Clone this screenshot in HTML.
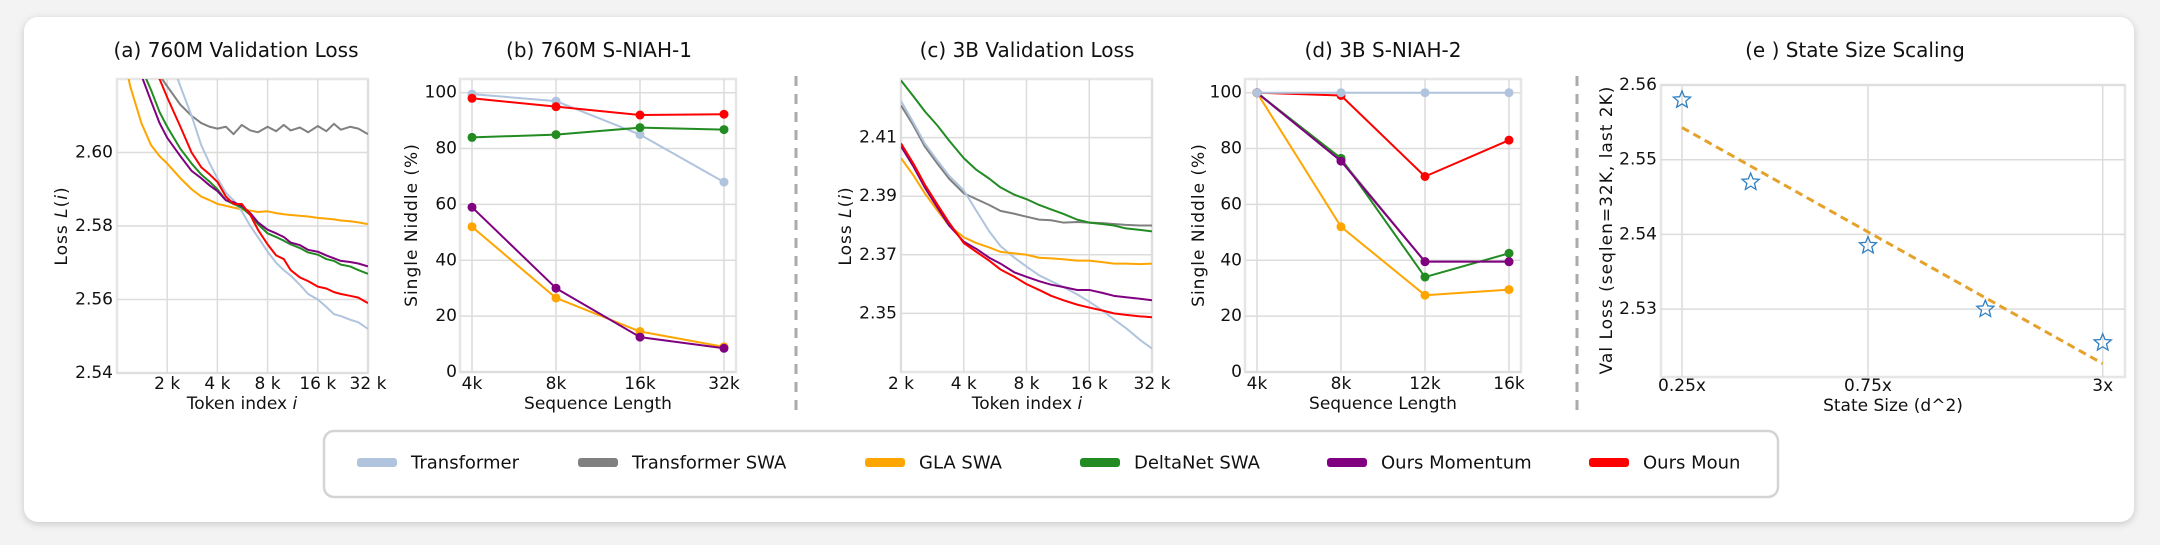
<!DOCTYPE html>
<html><head><meta charset="utf-8">
<style>
html,body{margin:0;padding:0;background:#f3f3f3;}
body{width:2160px;height:545px;overflow:hidden;position:relative;font-family:"DejaVu Sans","Liberation Sans",sans-serif;}
#card{position:absolute;left:24px;top:17px;width:2110px;height:505px;background:#fff;border-radius:14px;box-shadow:0 2px 8px rgba(0,0,0,0.18);}
svg{position:absolute;left:0;top:0;}
text{font-family:"DejaVu Sans","Liberation Sans",sans-serif;fill:#111;}
</style></head>
<body>
<div id="card"></div>
<svg id="fig" width="2160" height="545" viewBox="0 0 2160 545">
  <defs>
    <clipPath id="clipA"><rect x="117" y="79" width="251" height="294"/></clipPath>
    <clipPath id="clipC"><rect x="901" y="79" width="251" height="293"/></clipPath>
  </defs>
  <line x1="796" y1="76" x2="796" y2="417" stroke="#aaa" stroke-width="3" stroke-dasharray="10,8"/>
  <line x1="1577" y1="76" x2="1577" y2="417" stroke="#aaa" stroke-width="3" stroke-dasharray="10,8"/>
  <g id="legend">
    <rect x="324" y="431" width="1454" height="66" rx="10" fill="#fff" stroke="#d4d4d4" stroke-width="2.5"/>
  </g>
</svg>
<script>
// ---------- data ----------
const seriesNames = ['Transformer','Transformer SWA','GLA SWA','DeltaNet SWA','Ours Momentum','Ours Moun'];
const seriesColors = ['#b0c4de','#808080','#ffa500','#228b22','#800080','#ff0000'];

// (a) 760M validation loss, x in k tokens
const aX = [1,1.2,1.4,1.6,1.8,2,2.4,2.8,3.2,3.6,4,4.5,5,5.6,6.3,7,8,9,10,11,12.5,14,16,18,20,22,25,28,32];
const aTransformer = [2.70,2.68,2.665,2.65,2.637,2.628,2.618,2.610,2.602,2.597,2.593,2.589,2.587,2.584,2.580,2.577,2.573,2.570,2.568,2.5665,2.564,2.5615,2.560,2.558,2.556,2.5555,2.5545,2.5538,2.552];
const aTransformerSWA = [2.66,2.645,2.635,2.627,2.621,2.618,2.613,2.610,2.608,2.607,2.6065,2.607,2.605,2.6075,2.606,2.6055,2.607,2.6058,2.6075,2.606,2.6068,2.6055,2.6072,2.6058,2.6078,2.6062,2.607,2.6065,2.605];
const aGLA = [2.635,2.618,2.608,2.602,2.599,2.597,2.593,2.590,2.588,2.587,2.586,2.5855,2.585,2.5845,2.5842,2.5838,2.584,2.5835,2.5832,2.583,2.5828,2.5826,2.5822,2.582,2.5818,2.5815,2.5813,2.581,2.5805];
const aDelta = [2.64,2.63,2.623,2.617,2.611,2.607,2.601,2.597,2.594,2.592,2.590,2.587,2.586,2.585,2.583,2.5805,2.578,2.577,2.576,2.575,2.574,2.5728,2.5722,2.571,2.5705,2.5695,2.569,2.568,2.567];
const aMomentum = [2.638,2.628,2.621,2.614,2.608,2.604,2.599,2.595,2.593,2.591,2.5895,2.587,2.5865,2.5855,2.5835,2.581,2.579,2.578,2.577,2.5755,2.5748,2.5735,2.573,2.572,2.5712,2.5705,2.5702,2.5698,2.569];
const aMoun = [2.66,2.645,2.635,2.627,2.620,2.615,2.607,2.600,2.596,2.594,2.592,2.588,2.586,2.586,2.583,2.579,2.575,2.572,2.571,2.568,2.566,2.565,2.5635,2.563,2.562,2.5615,2.561,2.5605,2.559];
const aYTicks = [2.54,2.56,2.58,2.60];
const aXTicks = [2,4,8,16,32];
const aXTickLabels = ['2 k','4 k','8 k','16 k','32 k'];

// (b) 760M S-NIAH-1
const bCats = ['4k','8k','16k','32k'];
const bTransformer = [99.5,97,85,68];
const bMoun = [98,95,92,92.3];
const bDelta = [84,85,87.5,86.8];
const bMomentum = [59,30,12.5,8.5];
const bGLA = [52,26.5,14.5,9];
const pctTicks = [0,20,40,60,80,100];

// (c) 3B validation loss
const cX = [2,2.3,2.6,3,3.4,4,4.6,5.3,6,7,8,9.2,10.5,12,14,16,18.5,21,24,28,32];
const cTransformer = [2.4225,2.415,2.408,2.402,2.397,2.392,2.385,2.378,2.373,2.369,2.366,2.363,2.361,2.359,2.3565,2.354,2.351,2.348,2.345,2.341,2.338];
const cTransformerSWA = [2.421,2.414,2.407,2.401,2.396,2.391,2.389,2.387,2.385,2.384,2.383,2.382,2.3818,2.381,2.3812,2.381,2.3808,2.3805,2.3802,2.380,2.380];
const cGLA = [2.403,2.397,2.391,2.385,2.380,2.376,2.374,2.3725,2.371,2.3705,2.370,2.369,2.3688,2.3685,2.368,2.368,2.3675,2.367,2.367,2.3668,2.367];
const cDelta = [2.4295,2.424,2.419,2.414,2.409,2.403,2.399,2.396,2.393,2.3905,2.389,2.387,2.3855,2.384,2.382,2.381,2.3805,2.380,2.379,2.3785,2.378];
const cMomentum = [2.407,2.400,2.393,2.386,2.380,2.3745,2.372,2.369,2.367,2.364,2.3625,2.361,2.3598,2.359,2.358,2.358,2.357,2.356,2.3555,2.355,2.3545];
const cMoun = [2.408,2.401,2.394,2.387,2.381,2.374,2.371,2.368,2.365,2.3625,2.360,2.358,2.356,2.3545,2.353,2.352,2.351,2.350,2.3495,2.349,2.3487];
const cYTicks = [2.35,2.37,2.39,2.41];
const cXTicks = [2,4,8,16,32];
const cXTickLabels = ['2 k','4 k','8 k','16 k','32 k'];

// (d) 3B S-NIAH-2
const dCats = ['4k','8k','12k','16k'];
const dTransformer = [100,100,100,100];
const dTransformerSWA = [100,76,39.5,39.5];
const dMoun = [100,99,70,83];
const dDelta = [100,76.5,34,42.5];
const dMomentum = [100,75.5,39.5,39.5];
const dGLA = [100,52,27.5,29.5];

// (e) state size scaling
const eX = [0.25,0.375,0.75,1.5,3];
const eLoss = [2.558,2.547,2.5385,2.530,2.5255];
const eFitX = [0.25,3];
const eFitY = [2.5543,2.5227];
const eYTicks = [2.53,2.54,2.55,2.56];
const eXTicks = [0.25,0.75,3];
const eXTickLabels = ['0.25x','0.75x','3x'];

// ---------- helpers ----------
const NS = 'http://www.w3.org/2000/svg';
const svg = document.getElementById('fig');
function mk(tag, attrs, parent) {
  const el = document.createElementNS(NS, tag);
  for (const k in attrs) el.setAttribute(k, attrs[k]);
  (parent || svg).appendChild(el);
  return el;
}
function txt(s, x, y, size, anchor, parent, extra) {
  const el = mk('text', Object.assign({x:x, y:y, 'font-size':size, 'text-anchor':anchor||'middle', 'dominant-baseline':'central'}, extra||{}), parent);
  el.textContent = s;
  return el;
}
const log2 = v => Math.log(v)/Math.LN2;

function frame(name, L, T, R, B) {
  const g = mk('g', {});
  
  
  const r = mk('rect', {x:L, y:T, width:R-L, height:B-T, fill:'#fff', stroke:'#e6e6e6', 'stroke-width':2.5}, g);
  
  
  return g;
}
function gridH(g, name, L, R, y) {
  const l = mk('line', {x1:L, x2:R, y1:y, y2:y, stroke:'#dcdcdc', 'stroke-width':1.5}, g);
  
  
}
function gridV(g, name, T, B, x) {
  const l = mk('line', {x1:x, x2:x, y1:T, y2:B, stroke:'#dcdcdc', 'stroke-width':1.5}, g);
  
  
}
function title(s, x, name) {
  const t = txt(s, x, 50, 20, 'middle');
  
  
}
function ylabel(parts, x, y, name) {
  const t = mk('text', {x:0, y:0, 'font-size':17, 'text-anchor':'middle', 'dominant-baseline':'central', transform:'translate('+x+','+y+') rotate(-90)', 'letter-spacing':'1'});
  parts.forEach(p => { const s = mk('tspan', p[1] ? {'font-style':'italic'} : {}, t); s.textContent = p[0]; });
  
  
}
function xlabel(parts, x, y, name) {
  const t = mk('text', {x:x, y:y, 'font-size':17, 'text-anchor':'middle', 'dominant-baseline':'central'});
  parts.forEach(p => { const s = mk('tspan', p[1] ? {'font-style':'italic'} : {}, t); s.textContent = p[0]; });
  
  
}
function linePath(g, xs, ys, fx, fy, color, width, name, clip) {
  let d = '';
  xs.forEach((x,i) => { d += (i?'L':'M') + fx(x).toFixed(2) + ',' + fy(ys[i]).toFixed(2); });
  const attrs = {d:d, fill:'none', stroke:color, 'stroke-width':width, 'stroke-linejoin':'round'};
  if (clip) attrs['clip-path'] = clip;
  const p = mk('path', attrs, g);
  
  
  return p;
}
function starPoints(cx, cy, ro, ri) {
  const pts = [];
  for (let k = 0; k < 10; k++) {
    const r = k % 2 ? ri : ro;
    const a = -Math.PI/2 + k * Math.PI/5;
    pts.push((cx + r*Math.cos(a)).toFixed(2) + ',' + (cy + r*Math.sin(a)).toFixed(2));
  }
  return pts.join(' ');
}

// ---------- (a) ----------
(function(){
  const L=117,R=368,T=79,B=373;
  const fx = v => L + (log2(v) - log2(1)) / (log2(32) - log2(1)) * (R-L);
  const fy = v => B - (v - 2.54) / (2.62 - 2.54) * (B-T);
  const g = frame('panel-a-760m-loss', L, T, R, B);
  aYTicks.forEach(v => { gridH(g, 'a-y-grid', L, R, fy(v)); const t = txt(v.toFixed(2), L-4, fy(v), 17, 'end', g);   });
  aXTicks.forEach((v,i) => { gridV(g, 'a-x-grid', T, B, fx(v)); const t = txt(aXTickLabels[i], fx(v), 384, 17, 'middle', g);   });
  const sets = [[aTransformerSWA,1],[aGLA,2],[aTransformer,0],[aDelta,3],[aMomentum,4],[aMoun,5]];
  sets.forEach(s => linePath(g, aX, s[0], fx, fy, seriesColors[s[1]], 2, 'a-line-' + seriesNames[s[1]].toLowerCase().replace(/ /g,'-'), 'url(#clipA)'));
  title('(a) 760M Validation Loss', 236, 'a-title');
  ylabel([['Loss '],['L',1],['('],['i',1],[')']], 62, 226, 'a-y-axis-title');
  xlabel([['Token index '],['i',1]], 242, 404, 'a-x-axis-title');
})();

// ---------- (b)/(d) categorical ----------
function niah(prefix, L, R, cats, sets, ttl, tx) {
  const T=79,B=372;
  const pad = 12;
  const fx = i => L + pad + i * ((R-L-2*pad) / (cats.length-1));
  const fy = v => B - v / 100 * (B - 92.7);
  const g = frame('panel-' + prefix, L, T, R, B);
  pctTicks.forEach(v => { gridH(g, prefix+'-y-grid', L, R, fy(v)); const t = txt(String(v), L-3, fy(v), 17, 'end', g);   });
  cats.forEach((c,i) => { gridV(g, prefix+'-x-grid', T, B, fx(i)); const t = txt(c, fx(i), 384, 17, 'middle', g);   });
  sets.forEach(s => {
    const vals = s[0], col = seriesColors[s[1]];
    const nm = prefix + '-line-' + seriesNames[s[1]].toLowerCase().replace(/ /g,'-');
    linePath(g, cats.map((c,i)=>i), vals, fx, fy, col, 2, nm);
    vals.forEach((v,i) => {
      const c = mk('circle', {cx:fx(i), cy:fy(v), r:4.5, fill:col}, g);
      
      
    });
  });
  title(ttl, tx, prefix + '-title');
  xlabel([['Sequence Length']], (L+R)/2, 404, prefix + '-x-axis-title');
}
niah('b-760m-sniah1', 460, 736, bCats, [[bTransformer,0],[bGLA,2],[bMomentum,4],[bDelta,3],[bMoun,5]], '(b) 760M S-NIAH-1', 599);
ylabel([['Single Niddle (%)']], 412, 225, 'b-y-axis-title');
niah('d-3b-sniah2', 1245, 1521, dCats, [[dGLA,2],[dTransformerSWA,1],[dDelta,3],[dMomentum,4],[dMoun,5],[dTransformer,0]], '(d) 3B S-NIAH-2', 1383);
ylabel([['Single Niddle (%)']], 1199, 225, 'd-y-axis-title');

// ---------- (c) ----------
(function(){
  const L=901,R=1152,T=79,B=372;
  const fx = v => L + (log2(v) - log2(2)) / (log2(32) - log2(2)) * (R-L);
  const fy = v => B - (v - 2.33) / (2.43 - 2.33) * (B-T);
  const g = frame('panel-c-3b-loss', L, T, R, B);
  cYTicks.forEach(v => { gridH(g, 'c-y-grid', L, R, fy(v)); const t = txt(v.toFixed(2), L-4, fy(v), 17, 'end', g);   });
  cXTicks.forEach((v,i) => { gridV(g, 'c-x-grid', T, B, fx(v)); const t = txt(cXTickLabels[i], fx(v), 384, 17, 'middle', g);   });
  const sets = [[cTransformerSWA,1],[cTransformer,0],[cDelta,3],[cGLA,2],[cMomentum,4],[cMoun,5]];
  sets.forEach(s => linePath(g, cX, s[0], fx, fy, seriesColors[s[1]], 2, 'c-line-' + seriesNames[s[1]].toLowerCase().replace(/ /g,'-'), 'url(#clipC)'));
  title('(c) 3B Validation Loss', 1027, 'c-title');
  ylabel([['Loss '],['L',1],['('],['i',1],[')']], 846, 226, 'c-y-axis-title');
  xlabel([['Token index '],['i',1]], 1027, 404, 'c-x-axis-title');
})();

// ---------- (e) ----------
(function(){
  const L=1661,R=2125,T=85,B=377;
  const x0 = 1682, x1 = 1868;
  const pxPerLn = (x1 - x0) / Math.log(3);
  const fx = v => x0 + Math.log(v/0.25) * pxPerLn;
  const fy = v => 85 + (2.56 - v) / 0.01 * 74.7;
  const g = frame('panel-e-state-size', L, T, R, B);
  eYTicks.forEach(v => { gridH(g, 'e-y-grid', L, R, fy(v)); const t = txt(v.toFixed(2), L-4, fy(v), 17, 'end', g);   });
  eXTicks.forEach((v,i) => { gridV(g, 'e-x-grid', T, B, fx(v)); const t = txt(eXTickLabels[i], fx(v), 386, 17, 'middle', g);   });
  const fit = linePath(g, eFitX, eFitY, fx, fy, '#e5a22b', 3, 'e-fit-line');
  fit.setAttribute('stroke-dasharray', '8,5');
  eX.forEach((v,i) => {
    const s = mk('polygon', {points: starPoints(fx(v), fy(eLoss[i]), 9, 4), fill:'none', stroke:'#2f7fc1', 'stroke-width':1.3, 'stroke-linejoin':'miter'}, g);
    
    
  });
  title('(e ) State Size Scaling', 1855, 'e-title');
  ylabel([['Val Loss (seqlen=32K, last 2K)']], 1607, 230, 'e-y-axis-title');
  xlabel([['State Size (d^2)']], 1893, 406, 'e-x-axis-title');
})();

// ---------- legend ----------
const legendSwatchX = [357,578,865,1080,1327,1589];
const lg = document.getElementById('legend');
seriesNames.forEach((n,i) => {
  const sw = mk('rect', {x:legendSwatchX[i], y:458, width:40, height:9, rx:3, fill:seriesColors[i]}, lg);
  
  
  const t = txt(n, legendSwatchX[i] + 54, 463, 18, 'start', lg);
  
  
});
</script>
</body></html>
